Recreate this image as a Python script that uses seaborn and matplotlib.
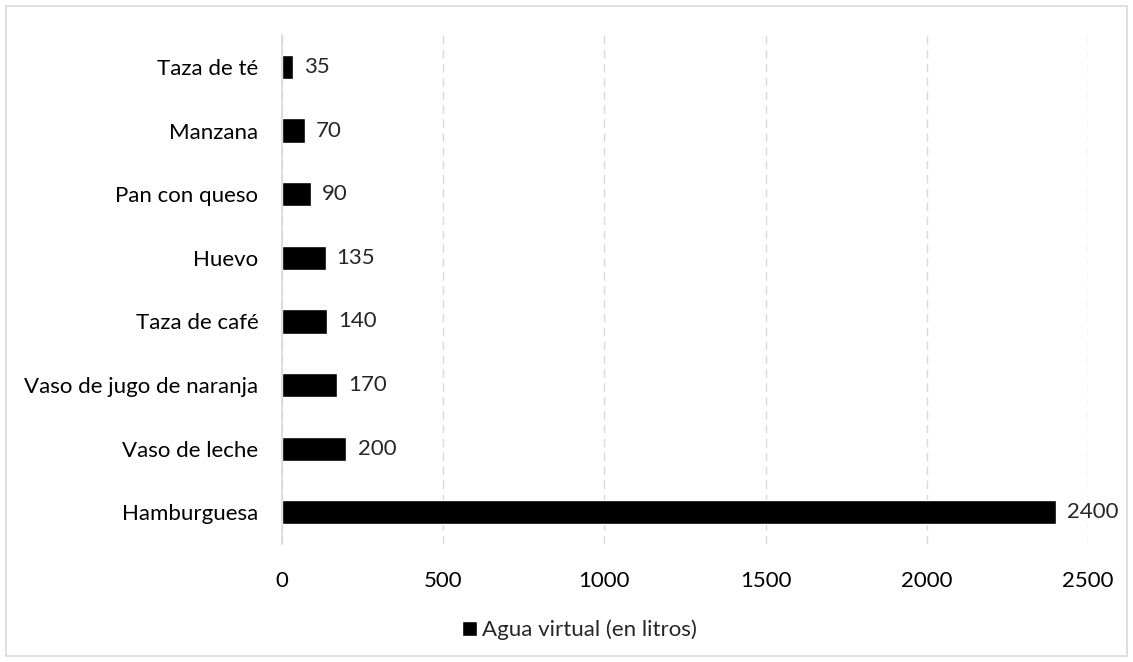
import pandas as pd
import seaborn as sns
import matplotlib.pyplot as plt
from matplotlib.patches import Rectangle, Patch

categories = ["Taza de té", "Manzana", "Pan con queso", "Huevo", "Taza de café",
              "Vaso de jugo de naranja", "Vaso de leche", "Hamburguesa"]
values = [35, 70, 90, 135, 140, 170, 200, 2400]
series_name = "Agua virtual (en litros)"
x_ticks = [0, 500, 1000, 1500, 2000, 2500]

df = pd.DataFrame({"item": categories, "litros": values})

sns.set_style("white")
plt.rcParams["font.family"] = ["Lato", "DejaVu Sans"]
fs = 16

fig = plt.figure(figsize=(11.33, 6.62), dpi=100)
ax = fig.add_axes([0.2489, 0.178, 0.7114, 0.769])

sns.barplot(data=df, y="item", x="litros", color="black", width=0.38,
            orient="h", ax=ax, saturation=1)

ax.set_xlim(0, 2500)
ax.set_xticks(x_ticks)
ax.set_xlabel("")
ax.set_ylabel("")
ax.tick_params(axis="both", length=0, labelsize=fs, colors="black")
ax.tick_params(axis="x", pad=19)
ax.tick_params(axis="y", pad=17)

ax.grid(axis="x", color="#d9d9d9", linestyle=(0, (6, 4)), linewidth=1)
ax.set_axisbelow(True)
for s in ["top", "right", "bottom"]:
    ax.spines[s].set_visible(False)
ax.spines["left"].set_color("#d9d9d9")
ax.spines["left"].set_linewidth(1.2)

for c in ax.containers:
    ax.bar_label(c, padding=8, fontsize=fs)

ax.legend(handles=[Patch(facecolor="black", label=series_name)],
          loc="center", bbox_to_anchor=(579 / 1133, 1 - 630 / 662),
          bbox_transform=fig.transFigure, frameon=False, fontsize=fs,
          handlelength=0.7, handleheight=0.7, handletextpad=0.2)

fig.patches.append(Rectangle((6 / 1133, 6 / 662), 1 - 12 / 1133, 1 - 12 / 662,
                             transform=fig.transFigure, fill=False,
                             edgecolor="#d9d9d9", linewidth=1.2))

fig.savefig("out.png", dpi=100)
